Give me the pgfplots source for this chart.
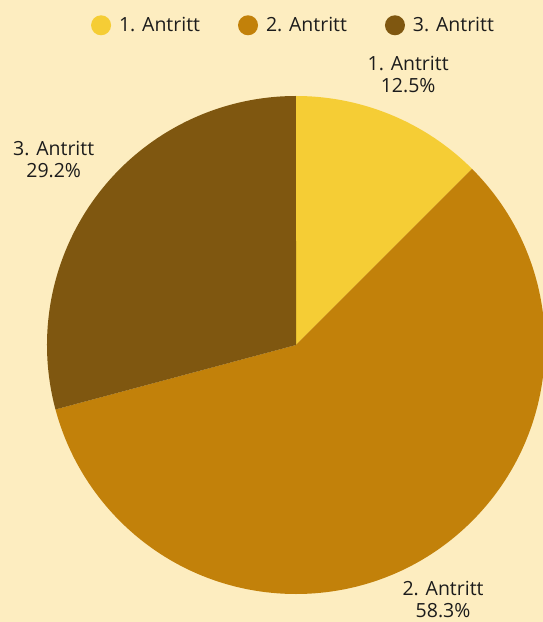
\documentclass[border=0pt]{standalone}
\usepackage{pgfplots}
\pgfplotsset{compat=1.18}
\usepackage{pgfplotstable}
\usepackage{fontspec}
\setmainfont{Open Sans}

\definecolor{bg}{HTML}{FDEDC0}
\definecolor{cA}{HTML}{F5CD35}
\definecolor{cB}{HTML}{C2810A}
\definecolor{cC}{HTML}{7F5710}
\definecolor{txt}{HTML}{1C1C1C}

\pgfplotstableread[col sep=comma]{
label,value
1. Antritt,3
2. Antritt,14
3. Antritt,7
}\pietable

\pgfplotstablegetelem{0}{value}\of\pietable \edef\vA{\pgfplotsretval}
\pgfplotstablegetelem{1}{value}\of\pietable \edef\vB{\pgfplotsretval}
\pgfplotstablegetelem{2}{value}\of\pietable \edef\vC{\pgfplotsretval}
\pgfplotstablegetelem{0}{label}\of\pietable \edef\lA{\pgfplotsretval}
\pgfplotstablegetelem{1}{label}\of\pietable \edef\lB{\pgfplotsretval}
\pgfplotstablegetelem{2}{label}\of\pietable \edef\lC{\pgfplotsretval}

\pgfmathsetmacro\total{\vA+\vB+\vC}
% slices clockwise from 12 o'clock
\pgfmathsetmacro\aA{90}
\pgfmathsetmacro\aB{\aA-360*\vA/\total}
\pgfmathsetmacro\aC{\aB-360*\vB/\total}
\pgfmathsetmacro\aD{\aC-360*\vC/\total}
\pgfmathsetmacro\mA{(\aA+\aB)/2}
\pgfmathsetmacro\mB{(\aB+\aC)/2}
\pgfmathsetmacro\mC{(\aC+\aD)/2}
% label anchors point back at the pie
\pgfmathsetmacro\nA{\mA+180}
\pgfmathsetmacro\nB{\mB+180}
\pgfmathsetmacro\nC{\mC+180}
\pgfmathsetmacro\pA{100*\vA/\total}
\pgfmathsetmacro\pB{100*\vB/\total}
\pgfmathsetmacro\pC{100*\vC/\total}

\def\R{249pt}
\def\gap{1.08}

\newcommand\slice[3]{%
  \fill[#1] (axis cs:0,0) -- (axis cs:{cos(#2)},{sin(#2)})
    arc[start angle=#2, end angle=#3, radius=\R] -- cycle;}
\newcommand\slicelabel[4]{%
  \node[anchor=#2, align=center, text=txt, font=\fontsize{19.5}{22}\selectfont]
    at (axis cs:{\gap*cos(#1)},{\gap*sin(#1)})
    {#3\\\pgfmathprintnumber[fixed,fixed zerofill,precision=1,assume math mode=true]{#4}\%};}

\pgfplotsset{dot legend/.style={legend image code/.code={%
  \fill (0pt,0pt) circle[radius=10pt];}}}

\begin{document}
\begin{tikzpicture}
\fill[bg] (0,0) rectangle (543pt,622pt);
\useasboundingbox (0,0) rectangle (543pt,622pt);
\begin{axis}[
  at={(296pt,277pt)}, anchor=center,
  x=249pt, y=249pt,
  xmin=-1, xmax=1, ymin=-1, ymax=1,
  hide axis, clip=false,
  legend columns=3,
  legend style={at={(0.495,1.142)}, anchor=center, draw=none, fill=none,
    text=txt, font=\fontsize{19.5}{22}\selectfont,
    /tikz/every odd column/.append style={column sep=6pt},
    /tikz/every even column/.append style={column sep=36pt}},
]
\addlegendimage{dot legend, cA, draw=none}
\addlegendentry{\lA}
\addlegendimage{dot legend, cB, draw=none}
\addlegendentry{\lB}
\addlegendimage{dot legend, cC, draw=none}
\addlegendentry{\lC}
\slice{cA}{\aA}{\aB}
\slice{cB}{\aB}{\aC}
\slice{cC}{\aC}{\aD}
\slicelabel{\mA}{\nA}{\lA}{\pA}
\slicelabel{\mB}{\nB}{\lB}{\pB}
\slicelabel{\mC}{\nC}{\lC}{\pC}
\end{axis}
\end{tikzpicture}
\end{document}
